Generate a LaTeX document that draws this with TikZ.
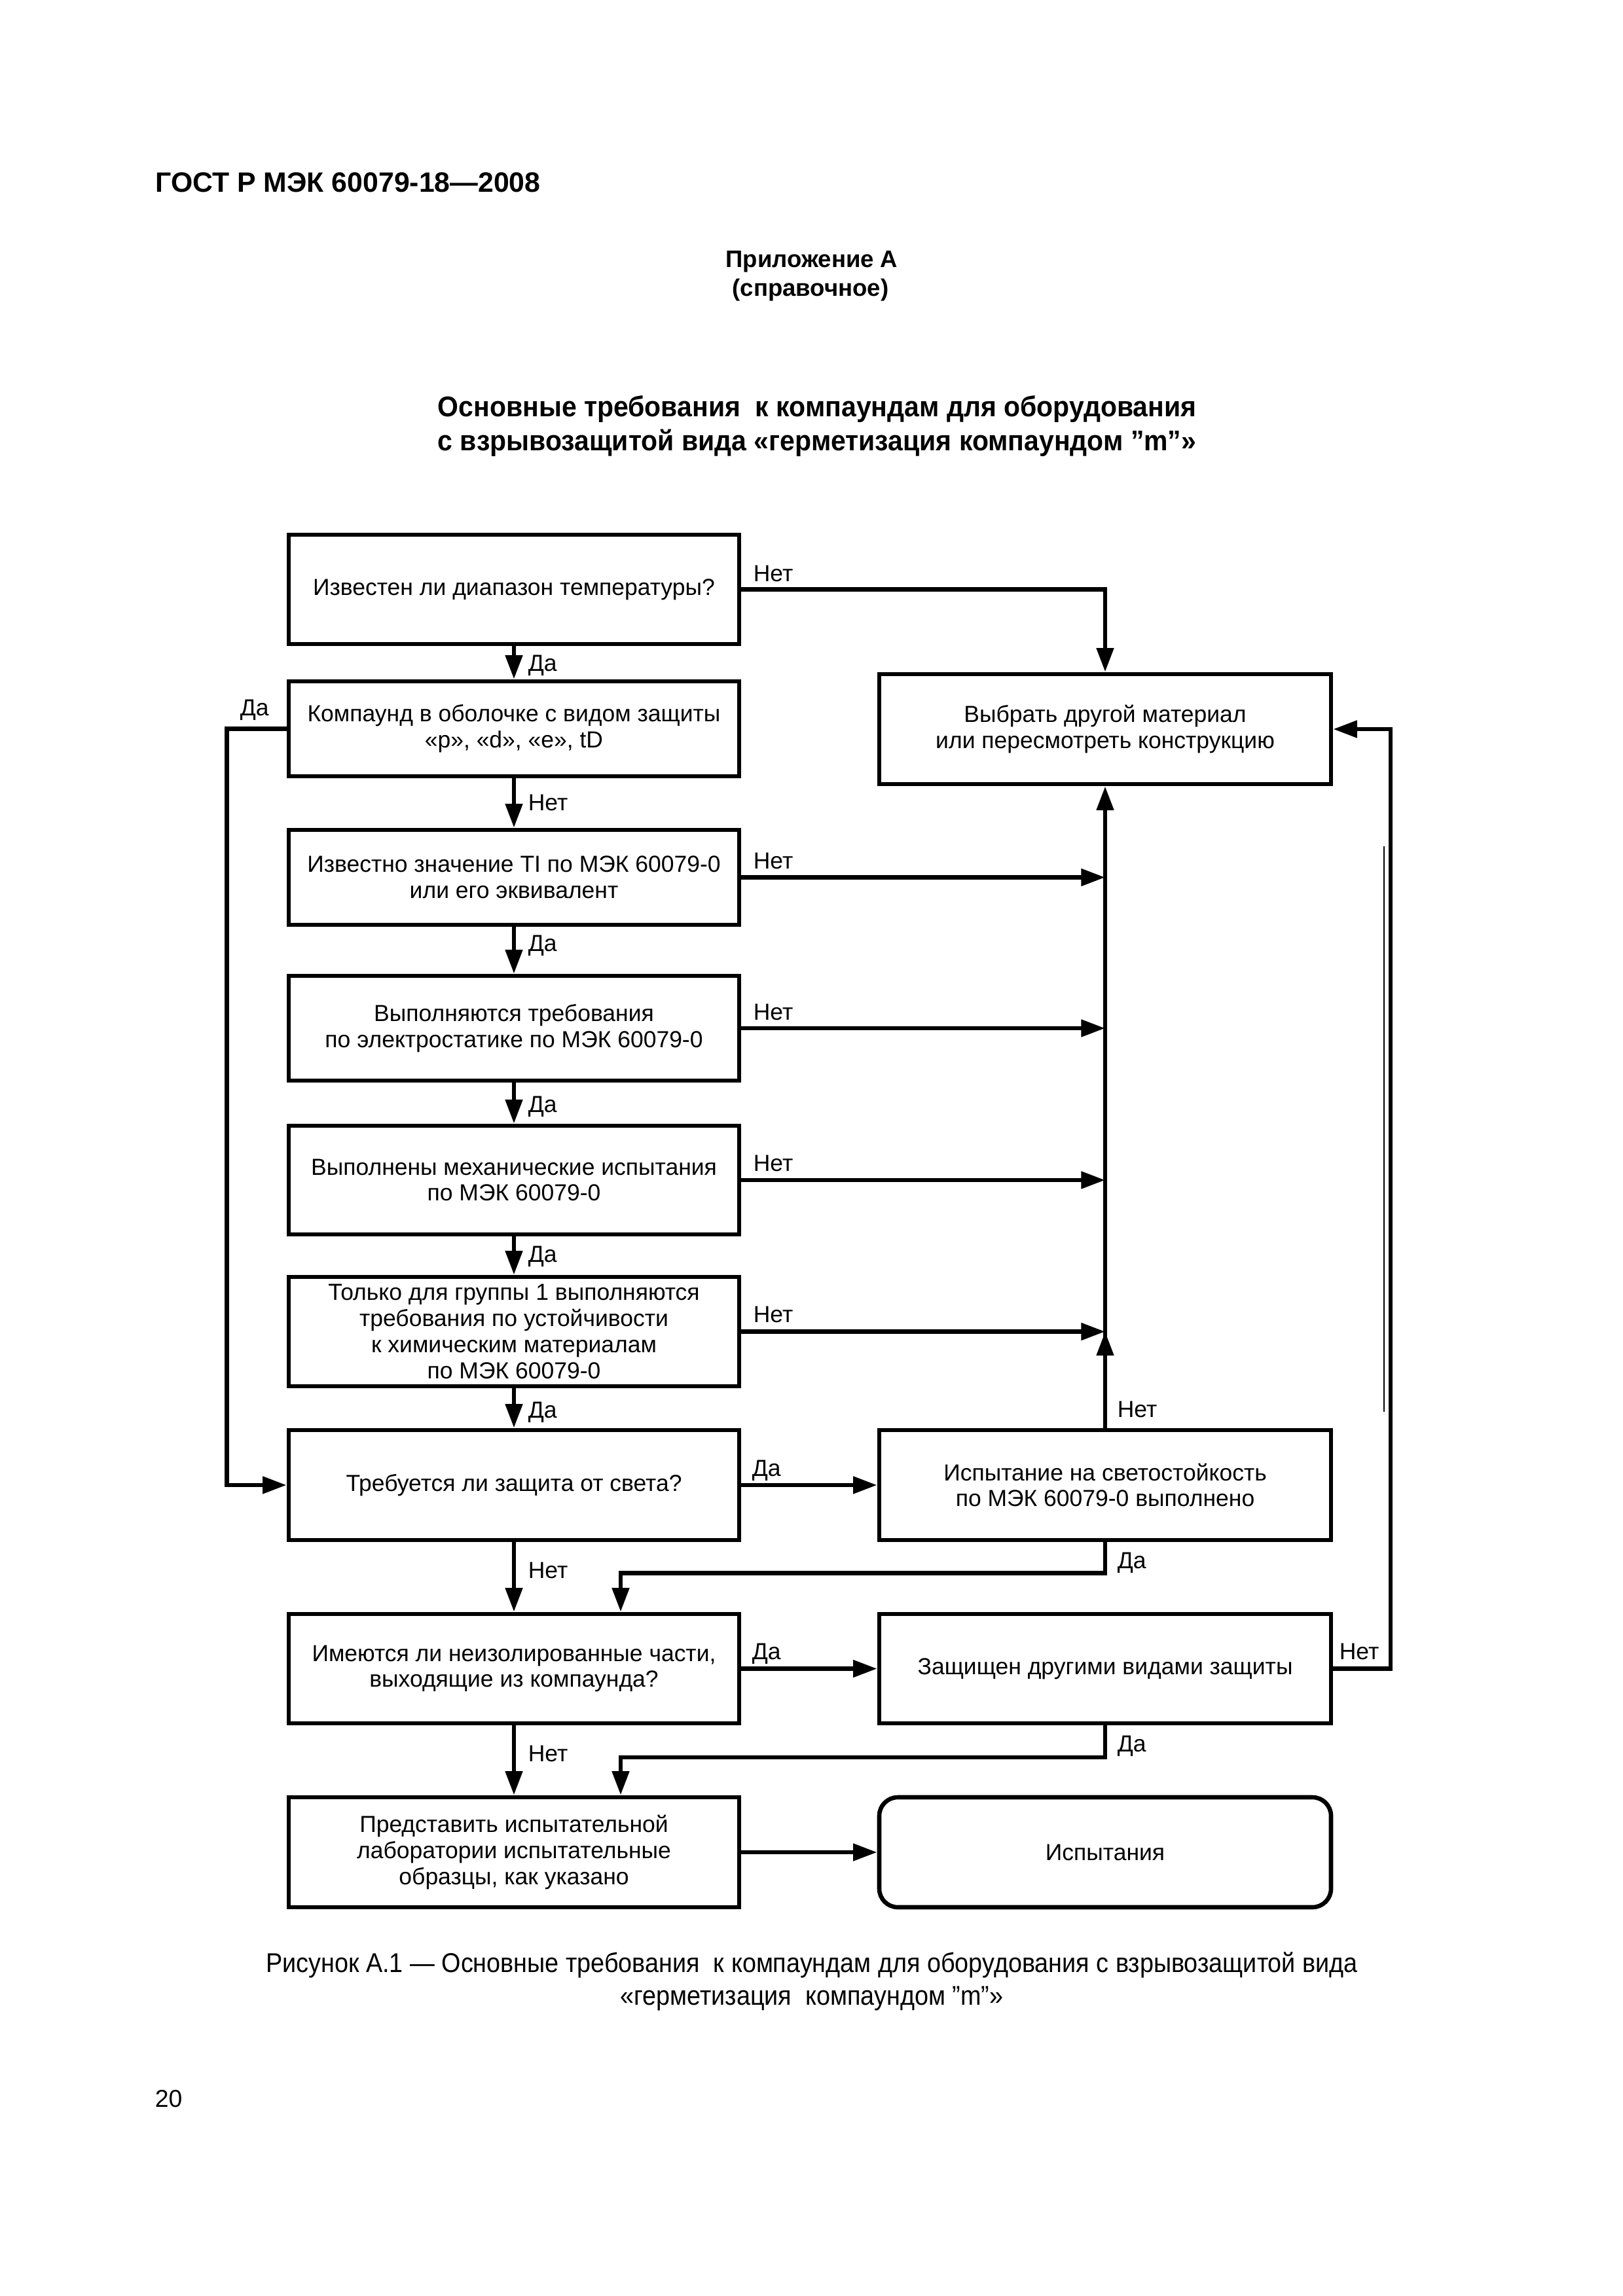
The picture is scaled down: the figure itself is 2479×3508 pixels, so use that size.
\documentclass[tikz,border=0pt]{standalone}
\usepackage{fontspec}
\setmainfont{Liberation Sans}
\newfontfamily\ttlfont{Liberation Sans}[FakeStretch=0.94]
\newfontfamily\captfont{Liberation Sans}[FakeStretch=0.91]
\usetikzlibrary{arrows.meta}
\newdimen\pxu \pxu=0.08467mm
\begin{document}
\begin{tikzpicture}[x=0.08467mm, y=-0.08467mm,
  txt/.style={font=\fontsize{8.55}{9.6}\selectfont},
  box/.style={draw, line width=0.56mm, minimum width=688\pxu, inner sep=0pt, align=center, txt},
  rbox/.style={box, minimum width=690\pxu},
  lab/.style={anchor=base west, inner sep=0pt, txt},
  arr/.style={line width=0.56mm, -{Triangle[length=3.1mm, width=2.15mm]}},
  hd/.style={inner sep=0pt, font=\bfseries\fontsize{10.3}{12}\selectfont},
  ttl/.style={inner sep=0pt, font=\ttlfont\bfseries\fontsize{10.5}{12}\selectfont},
  captxt/.style={inner sep=0pt, font=\captfont\fontsize{10}{12}\selectfont}]
\useasboundingbox (0,0) rectangle (2479,3508);

% page texts
\node[hd, anchor=base west] (hdr) at (237,293) {ГОСТ Р МЭК 60079-18—2008};
\node[hd, anchor=base, font=\bfseries\fontsize{8.8}{10}\selectfont] (app) at (1240,408) {Приложение А};
\node[hd, anchor=base, font=\bfseries\fontsize{8.8}{10}\selectfont] (ref) at (1238,452) {(справочное)};
\node[ttl, anchor=base] (t1) at (1248,636) {Основные требования\ \ к компаундам для оборудования};
\node[ttl, anchor=base] (t2) at (1248,688) {с взрывозащитой вида «герметизация компаундом ”m”»};
\node[captxt, anchor=base] (c1) at (1240,3013) {Рисунок А.1 — Основные требования\ \ к компаундам для оборудования с взрывозащитой вида};
\node[captxt, anchor=base] (c2) at (1240,3063) {«герметизация\ \ компаундом ”m”»};
\node[anchor=base west, inner sep=0pt, font=\fontsize{9}{11}\selectfont] (pg) at (236,3219) {20};

% left column
\node[box, minimum height=167\pxu] (b1) at (785,900.5) {Известен ли диапазон температуры?};
\node[box, minimum height=145\pxu] (b2) at (785,1113.5) {Компаунд в оболочке с видом защиты\\«p», «d», «e», tD};
\node[box, minimum height=145\pxu] (b3) at (785,1340.5) {Известно значение TI по МЭК 60079-0\\или его эквивалент};
\node[box, minimum height=160\pxu] (b4) at (785,1571) {Выполняются требования\\по электростатике по МЭК 60079-0};
\node[box, minimum height=166\pxu] (b5) at (785,1803) {Выполнены механические испытания\\по МЭК 60079-0};
\node[box, minimum height=167\pxu] (b6) at (785,2034.5) {Только для группы 1 выполняются\\требования по устойчивости\\к химическим материалам\\по МЭК 60079-0};
\node[box, minimum height=168\pxu] (b7) at (785,2269) {Требуется ли защита от света?};
\node[box, minimum height=167\pxu] (b8) at (785,2549.5) {Имеются ли неизолированные части,\\выходящие из компаунда?};
\node[box, minimum height=168\pxu] (b9) at (785,2830) {Представить испытательной\\лаборатории испытательные\\образцы, как указано};

% right column
\node[rbox, minimum height=168\pxu] (alt) at (1688,1114) {Выбрать другой материал\\или пересмотреть конструкцию};
\node[rbox, minimum height=168\pxu] (l7) at (1688,2269) {Испытание на светостойкость\\по МЭК 60079-0 выполнено};
\node[rbox, minimum height=167\pxu] (l8) at (1688,2549.5) {Защищен другими видами защиты};
\node[rbox, minimum height=168\pxu, rounded corners=2.4mm] (l9) at (1688,2830) {Испытания};

% helper coordinates
\coordinate (lx) at (346.5,0);
\coordinate (rx) at (2124,0);
\coordinate (j1) at (948,2403.5);
\coordinate (j2) at (948,2685);

% connectors
\draw[arr] (b1.east) -| (alt.north);
\draw[arr] (b1.south) -- (b2.north);
\draw[arr] (b2.south) -- (b3.north);
\draw[arr] (b3.south) -- (b4.north);
\draw[arr] (b4.south) -- (b5.north);
\draw[arr] (b5.south) -- (b6.north);
\draw[arr] (b6.south) -- (b7.north);
\draw[arr] (b2.west) -- (b2.west -| lx) |- (b7.west);
\draw[arr] (b3.east) -- (b3.east -| alt.south);
\draw[arr] (b4.east) -- (b4.east -| alt.south);
\draw[arr] (b5.east) -- (b5.east -| alt.south);
\draw[arr] (b6.east) -- (b6.east -| alt.south);
\draw[arr] (l7.north) -- (l7.north |- b6.east);
\draw[arr] (l7.north) -- (alt.south);
\draw[arr] (b7.east) -- (l7.west);
\draw[arr] (b7.south) -- (b8.north);
\draw[arr] (l7.south) |- (j1) -- (j1 |- b8.north);
\draw[arr] (b8.east) -- (l8.west);
\draw[arr] (l8.east) -- (l8.east -| rx) |- (alt.east);
\draw[arr] (b8.south) -- (b9.north);
\draw[arr] (l8.south) |- (j2) -- (j2 |- b9.north);
\draw[arr] (b9.east) -- (l9.west);

% faint scan line beside the return line
\draw[line width=0.17mm] (2114,1293) -- (2114,2157);

% labels
\node[lab] (n1) at (1150,888) {Нет};
\node[lab] (y1) at (806,1025) {Да};
\node[lab] (y2) at (366,1093) {Да};
\node[lab] (n2) at (806,1238) {Нет};
\node[lab] (n3) at (1150,1327) {Нет};
\node[lab] (y3) at (806,1453) {Да};
\node[lab] (n4) at (1150,1558) {Нет};
\node[lab] (y4) at (806,1699) {Да};
\node[lab] (n5) at (1150,1789) {Нет};
\node[lab] (y5) at (806,1928) {Да};
\node[lab] (n6) at (1150,2020) {Нет};
\node[lab] (y6) at (806,2166) {Да};
\node[lab] (n7) at (1706,2165) {Нет};
\node[lab] (y7) at (1148,2255) {Да};
\node[lab] (n8) at (806,2411) {Нет};
\node[lab] (y8) at (1706,2396) {Да};
\node[lab] (y9) at (1148,2535) {Да};
\node[lab] (n9) at (2045,2535) {Нет};
\node[lab] (n10) at (806,2691) {Нет};
\node[lab] (y10) at (1706,2676) {Да};
\end{tikzpicture}
\end{document}
